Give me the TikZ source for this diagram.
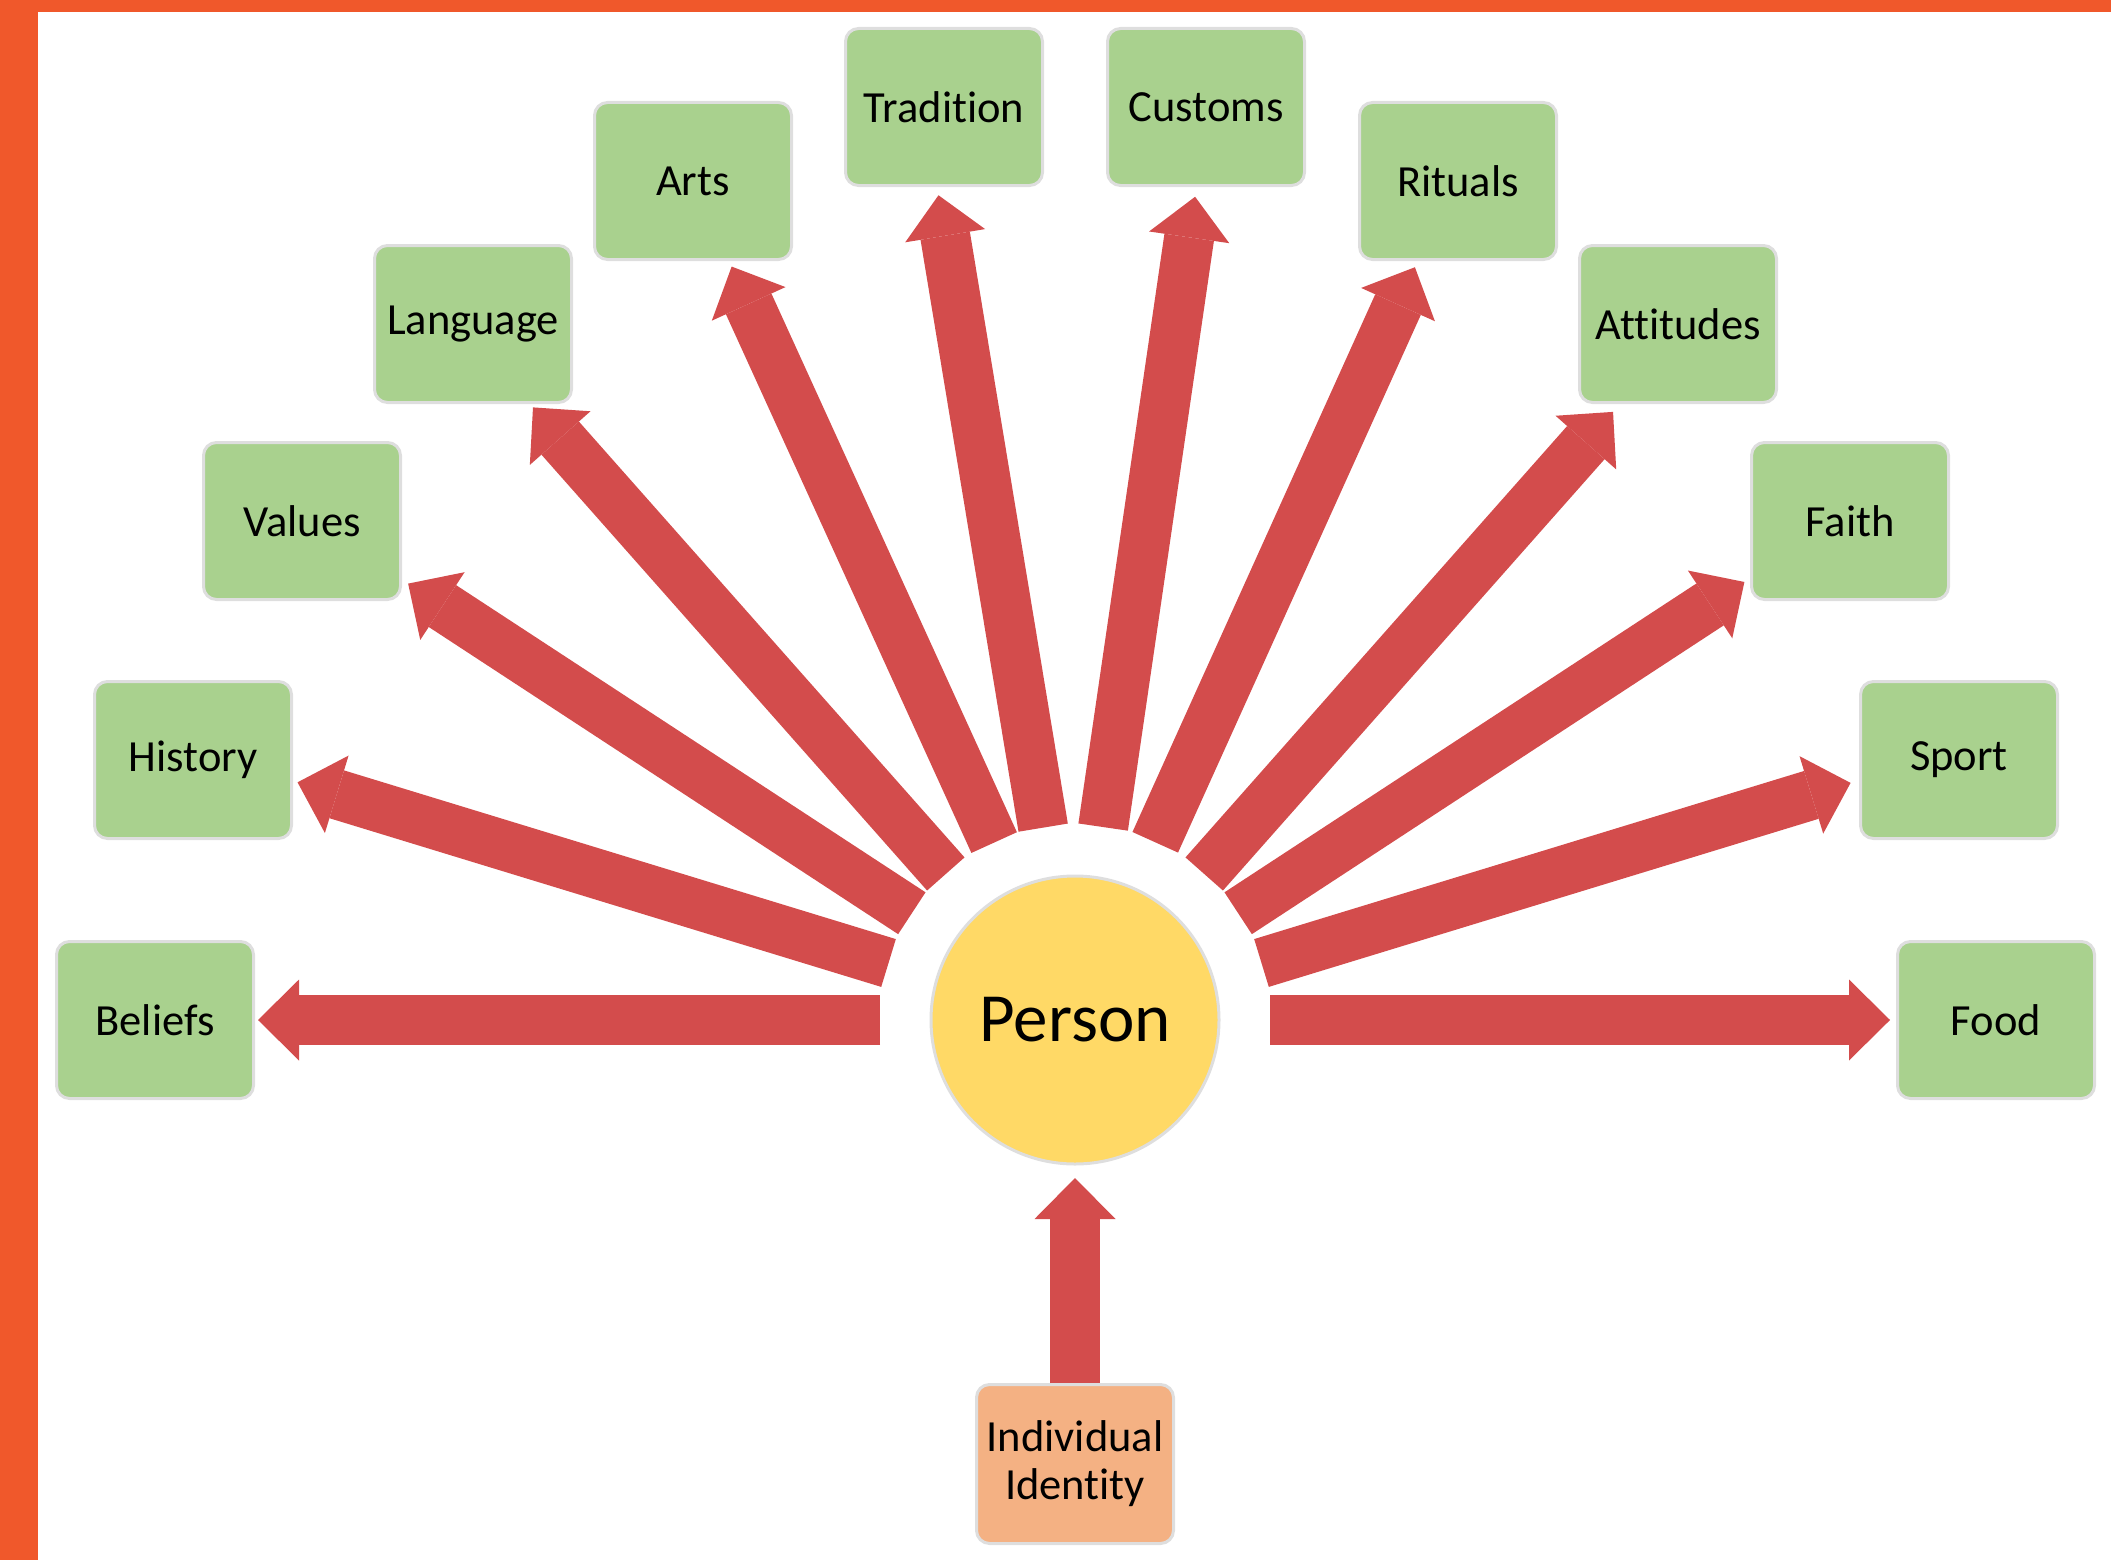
\documentclass[tikz,border=0pt]{standalone}
\usepackage{fontspec}
\setmainfont{Carlito}[Ligatures=NoCommon]
\usetikzlibrary{arrows.meta,calc}

\definecolor{framecol}{RGB}{240,88,43}
\definecolor{spokecol}{RGB}{211,76,76}
\definecolor{leafcol}{RGB}{169,209,142}
\definecolor{hubcol}{RGB}{255,217,102}
\definecolor{rootcol}{RGB}{244,177,131}
\definecolor{edgecol}{RGB}{222,222,222}

\tikzset{
  leaf/.style={draw=edgecol, line width=3pt, fill=leafcol, rounded corners=13pt,
    minimum width=197pt, minimum height=157pt, inner sep=0pt,
    font=\fontsize{44.5}{48}\selectfont, text=black},
  rootbox/.style={leaf, fill=rootcol, minimum height=159pt, align=center},
  hub/.style={circle, draw=edgecol, line width=3pt, fill=hubcol,
    minimum size=288pt, inner sep=0pt, font=\fontsize{69}{72}\selectfont},
  spoke/.style={draw=spokecol, line width=50pt,
    -{Triangle[length=41pt,width=81pt,line width=0pt]}},
}

\begin{document}
\begin{tikzpicture}[x=1pt,y=-1pt]
\useasboundingbox (0,0) rectangle (2111,1560);
% page frame
\fill[framecol] (0,0) rectangle (38,1560);
\fill[framecol] (0,0) rectangle (2111,12);

% centre and surrounding aspects
\node[hub] (person) at (1075,1020) {Person};
\node[leaf] (beliefs)   at (155,1020) {Beliefs};
\node[leaf] (history)   at (193,760)  {History};
\node[leaf] (values)    at (302,521)  {Values};
\node[leaf] (language)  at (473,324)  {Language};
\node[leaf] (arts)      at (693,181)  {Arts};
\node[leaf] (tradition) at (944,107)  {Tradition};
\node[leaf] (customs)   at (1206,107) {Customs};
\node[leaf] (rituals)   at (1458,181) {Rituals};
\node[leaf] (attitudes) at (1678,324) {Attitudes};
\node[leaf] (faith)     at (1850,521) {Faith};
\node[leaf] (sport)     at (1959,760) {Sport};
\node[leaf] (food)      at (1996,1020){Food};
\node[rootbox] (identity) at (1075,1464) {Individual\\Identity};

% radial arrows: name / direction (degrees) / tip distance
\foreach \name/\ang/\len in {
    beliefs/180/817, history/163/813, values/146.8/797, language/131.5/818,
    arts/114.5/828, tradition/99.4/836, customs/81.7/832, rituals/65.7/826,
    attitudes/48.5/812, faith/33.2/800, sport/17/811, food/0/815} {
  \coordinate (\name-s) at ($(person.center)+(-\ang:195)$);
  \coordinate (\name-t) at ($(person.center)+(-\ang:\len)$);
  \draw[spoke] (\name-s) -- (\name-t);
}

% arrow from the individual up to the person
\coordinate (identity-t) at ($(person.center)+(0,158)$);
\draw[spoke] (identity.north) -- (identity-t);
\end{tikzpicture}
\end{document}
